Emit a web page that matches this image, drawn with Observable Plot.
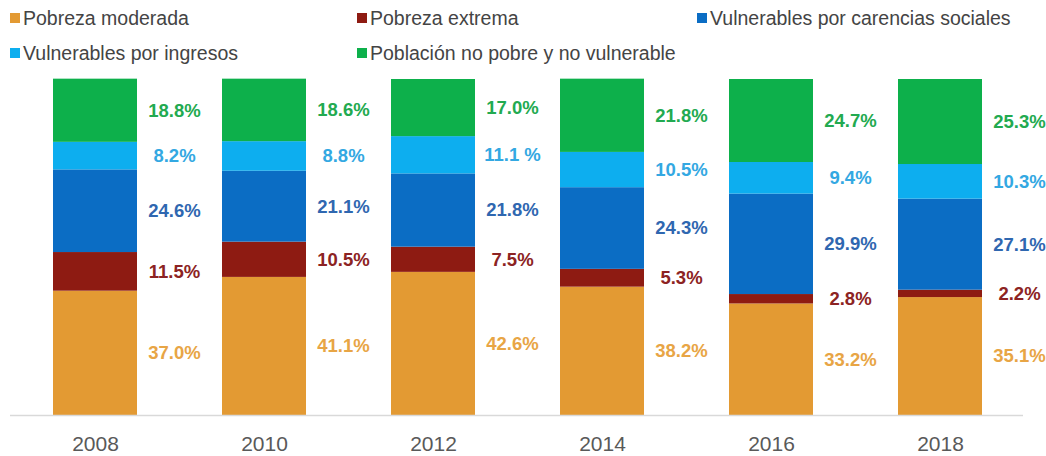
<!DOCTYPE html>
<html>
<head>
<meta charset="utf-8">
<script src="https://cdn.jsdelivr.net/npm/d3@7"></script>
<script src="https://cdn.jsdelivr.net/npm/@observablehq/plot@0.6"></script>
<style>
  html, body { margin: 0; padding: 0; background: #fff; }
  body { width: 1046px; height: 456px; overflow: hidden; font-family: "Liberation Sans", Arial, sans-serif; }
  #legend { position: relative; height: 70px; width: 1046px; }
  .item { position: absolute; display: flex; align-items: center; font-size: 19.5px; color: #444; line-height: 24px; white-space: nowrap; }
  .sw { width: 10px; height: 10px; margin-right: 3px; }
  #chart svg { display: block; }
</style>
</head>
<body>
<div id="legend"></div>
<div id="chart"></div>
<script>
const years = ["2008", "2010", "2012", "2014", "2016", "2018"];
const seriesNames = [
  "Pobreza moderada",
  "Pobreza extrema",
  "Vulnerables por carencias sociales",
  "Vulnerables por ingresos",
  "Población no pobre y no vulnerable"
];
const pobrezaModerada = [37.0, 41.1, 42.6, 38.2, 33.2, 35.1];
const pobrezaExtrema = [11.5, 10.5, 7.5, 5.3, 2.8, 2.2];
const vulnerablesCarencias = [24.6, 21.1, 21.8, 24.3, 29.9, 27.1];
const vulnerablesIngresos = [8.2, 8.8, 11.1, 10.5, 9.4, 10.3];
const noPobreNoVulnerable = [18.8, 18.6, 17.0, 21.8, 24.7, 25.3];
const ingresosLabels = ["8.2%", "8.8%", "11.1 %", "10.5%", "9.4%", "10.3%"];

const barColors = ["#E39A33", "#8E1B12", "#0B6DC4", "#0DAEEF", "#0DB04B"];
const textColors = ["#E8A545", "#8C2323", "#2F67B0", "#33A8E2", "#22AA50"];

const seriesValues = [pobrezaModerada, pobrezaExtrema, vulnerablesCarencias, vulnerablesIngresos, noPobreNoVulnerable];
const data = [];
seriesNames.forEach((s, si) => {
  years.forEach((y, yi) => {
    const v = seriesValues[si][yi];
    const label = si === 3 ? ingresosLabels[yi] : v.toFixed(1) + "%";
    data.push({year: y, series: s, si, value: v, label});
  });
});

// Legend (HTML, above the SVG)
const legendPos = [
  {left: 10, top: 6}, {left: 357, top: 6}, {left: 697, top: 6},
  {left: 10, top: 41}, {left: 357, top: 41}
];
const legend = document.getElementById("legend");
seriesNames.forEach((s, i) => {
  const it = document.createElement("div");
  it.className = "item";
  it.style.left = legendPos[i].left + "px";
  it.style.top = legendPos[i].top + "px";
  const sw = document.createElement("span");
  sw.className = "sw";
  sw.style.background = barColors[i];
  it.appendChild(sw);
  it.appendChild(document.createTextNode(s));
  legend.appendChild(it);
});

const stackOpts = {x: "year", y: "value", z: "series", order: seriesNames};

const chart = Plot.plot({
  width: 1046,
  height: 386,
  marginTop: 9,
  marginBottom: 41,
  marginLeft: 10,
  marginRight: 23,
  style: {fontFamily: "'Liberation Sans', Arial, sans-serif", background: "white"},
  x: {type: "band", domain: years, range: [53, 982], paddingInner: 0.503, paddingOuter: 0, label: null},
  y: {domain: [0, 100], axis: null},
  marks: [
    Plot.barY(data, Plot.stackY({...stackOpts, fill: d => barColors[d.si]})),
    Plot.ruleY([0], {stroke: "#d9d9d9", strokeWidth: 1.5}),
    Plot.text(data, Plot.stackY({
      ...stackOpts,
      text: "label",
      fill: d => textColors[d.si],
      dx: 79,
      fontSize: 18.5,
      fontWeight: "bold"
    })),
    Plot.axisX({tickSize: 0, tickPadding: 21, fontSize: 21, fill: "#595959", label: null})
  ]
});
document.getElementById("chart").appendChild(chart);
</script>
</body>
</html>
